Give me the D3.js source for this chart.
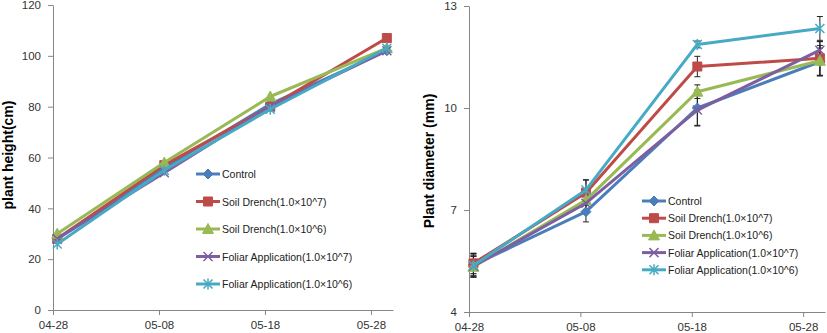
<!DOCTYPE html>
<html>
<head>
<meta charset="utf-8">
<script src="https://d3js.org/d3.v7.min.js"></script>
<style>
  body { margin: 0; background: #fff; }
  text { font-family: "Liberation Sans", Arial, sans-serif; }
</style>
</head>
<body>
<div id="vis"></div>
<script>
  // x positions (days after 04-28) of the measurements, and date tick labels
  var dayOffsets = [0.4, 10.5, 20.5, 31.5]
  var tickDays = [0, 10, 20, 30]
  var tickLabels = ["04-28", "05-08", "05-18", "05-28"]

  var seriesNames = ["Control", "Soil Drench(1.0×10^7)", "Soil Drench(1.0×10^6)",
                     "Foliar Application(1.0×10^7)", "Foliar Application(1.0×10^6)"]
  var colors = ["#4a7ebb", "#be4b48", "#98b954", "#7d5fa0", "#46aac5"]
  var markers = ["diamond", "square", "triangle", "cross", "star"]

  // plant height (cm)
  var heightControl = [28, 56, 81, 102]
  var heightSoil7 = [28, 57, 80, 107]
  var heightSoil6 = [30, 58, 84, 103]
  var heightFoliar7 = [28, 54, 80, 102]
  var heightFoliar6 = [26, 55, 79, 103]
  var heightTicks = [0, 20, 40, 60, 80, 100, 120]

  // plant diameter (mm) + error
  var diamControl = [5.38, 6.95, 10.0, 11.36]
  var diamSoil7 = [5.43, 7.51, 11.22, 11.46]
  var diamSoil6 = [5.33, 7.29, 10.48, 11.39]
  var diamFoliar7 = [5.35, 7.2, 9.94, 11.7]
  var diamFoliar6 = [5.37, 7.59, 11.87, 12.34]
  var errControl = [0.3, 0.3, 0.53, 0.4]
  var errSoil7 = [0.3, 0.37, 0.3, 0.5]
  var errSoil6 = [0.3, 0.3, 0.2, 0.45]
  var errFoliar7 = [0.3, 0.25, 0.45, 0.25]
  var errFoliar6 = [0.35, 0.3, 0.1, 0.35]
  var diamTicks = [4, 7, 10, 13]

  var svg = d3.select("#vis").append("svg")
    .attr("width", 827).attr("height", 333)

  function markerPath(type) {
    if (type == "diamond") return "M0,-5L5,0L0,5L-5,0Z"
    if (type == "square") return "M-4.5,-4.5H4.5V4.5H-4.5Z"
    if (type == "triangle") return "M0,-5.5L5.5,4.5H-5.5Z"
    if (type == "cross") return "M-4.5,-4.5L4.5,4.5M4.5,-4.5L-4.5,4.5"
    return "M-4.5,-4.5L4.5,4.5M4.5,-4.5L-4.5,4.5M0,-5.5V5.5"
  }

  function drawPanel(cfg) {
    var g = svg.append("g")
    var x = d3.scaleLinear().domain(cfg.xDomain).range(cfg.xRange)
    var y = d3.scaleLinear().domain(cfg.yDomain).range(cfg.yRange)

    // axes
    var xAxis = g.append("g")
      .attr("transform", "translate(0," + cfg.yRange[0] + ")")
      .call(d3.axisBottom(x).tickValues(tickDays)
        .tickFormat(function(d, i) { return tickLabels[i] })
        .tickSize(5).tickSizeOuter(0))
    var yAxis = g.append("g")
      .attr("transform", "translate(" + cfg.xRange[0] + ",0)")
      .call(d3.axisLeft(y).tickValues(cfg.yTicks).tickSize(5).tickSizeOuter(0))
    ;[xAxis, yAxis].forEach(function(a) {
      a.selectAll("path, line").attr("stroke", "#868686")
      a.selectAll("text").attr("fill", "#333").style("font-size", "11.5px")
    })
    xAxis.selectAll("text").attr("dy", "1em").attr("y", 7)
    yAxis.selectAll("text").attr("x", -12)

    g.append("text")
      .attr("transform", "translate(" + cfg.labelX + "," + cfg.labelY + ") rotate(-90)")
      .attr("text-anchor", "middle")
      .style("font-size", "14px").style("font-weight", "bold").attr("fill", "#000")
      .text(cfg.yLabel)

    var line = d3.line()
      .x(function(d, i) { return x(dayOffsets[i]) })
      .y(function(d) { return y(d) })

    // error bars
    if (cfg.errors) {
      cfg.series.forEach(function(vals, s) {
        vals.forEach(function(v, i) {
          var e = cfg.errors[s][i]
          var cx = x(dayOffsets[i])
          var eb = g.append("g").attr("stroke", "#222").attr("stroke-width", 1)
          eb.append("line").attr("x1", cx).attr("x2", cx).attr("y1", y(v - e)).attr("y2", y(v + e))
          eb.append("line").attr("x1", cx - 3).attr("x2", cx + 3).attr("y1", y(v - e)).attr("y2", y(v - e))
          eb.append("line").attr("x1", cx - 3).attr("x2", cx + 3).attr("y1", y(v + e)).attr("y2", y(v + e))
        })
      })
    }

    cfg.series.forEach(function(vals, s) {
      g.append("path").datum(vals)
        .attr("d", line).attr("fill", "none")
        .attr("stroke", colors[s]).attr("stroke-width", 3)
        .attr("stroke-linejoin", "round")
      vals.forEach(function(v, i) {
        drawMarker(g, x(dayOffsets[i]), y(v), s)
      })
    })

    // legend
    seriesNames.forEach(function(name, s) {
      var ly = cfg.legendY + s * cfg.legendStep
      g.append("line")
        .attr("x1", cfg.legendX).attr("x2", cfg.legendX + 24)
        .attr("y1", ly).attr("y2", ly)
        .attr("stroke", colors[s]).attr("stroke-width", 3)
      drawMarker(g, cfg.legendX + 12, ly, s)
      g.append("text")
        .attr("x", cfg.legendX + 26).attr("y", ly + 4)
        .style("font-size", "10.5px").attr("fill", "#222")
        .text(name)
    })
  }

  function drawMarker(g, cx, cy, s) {
    var type = markers[s]
    var filled = type == "diamond" || type == "square" || type == "triangle"
    g.append("path")
      .attr("transform", "translate(" + cx + "," + cy + ")")
      .attr("d", markerPath(type))
      .attr("fill", filled ? colors[s] : "none")
      .attr("stroke", colors[s])
      .attr("stroke-width", filled ? 1 : 1.5)
  }

  drawPanel({
    xDomain: [0, 32.08], xRange: [53, 393],
    yDomain: [0, 120], yRange: [310, 5], yTicks: heightTicks,
    series: [heightControl, heightSoil7, heightSoil6, heightFoliar7, heightFoliar6],
    yLabel: "plant height(cm)", labelX: 13, labelY: 155,
    legendX: 196, legendY: 174, legendStep: 27.5
  })

  drawPanel({
    xDomain: [0, 31.96], xRange: [469, 825],
    yDomain: [4, 13], yRange: [312, 6], yTicks: diamTicks,
    series: [diamControl, diamSoil7, diamSoil6, diamFoliar7, diamFoliar6],
    errors: [errControl, errSoil7, errSoil6, errFoliar7, errFoliar6],
    yLabel: "Plant diameter (mm)", labelX: 434, labelY: 161,
    legendX: 642, legendY: 201, legendStep: 17.2
  })
</script>
</body>
</html>
